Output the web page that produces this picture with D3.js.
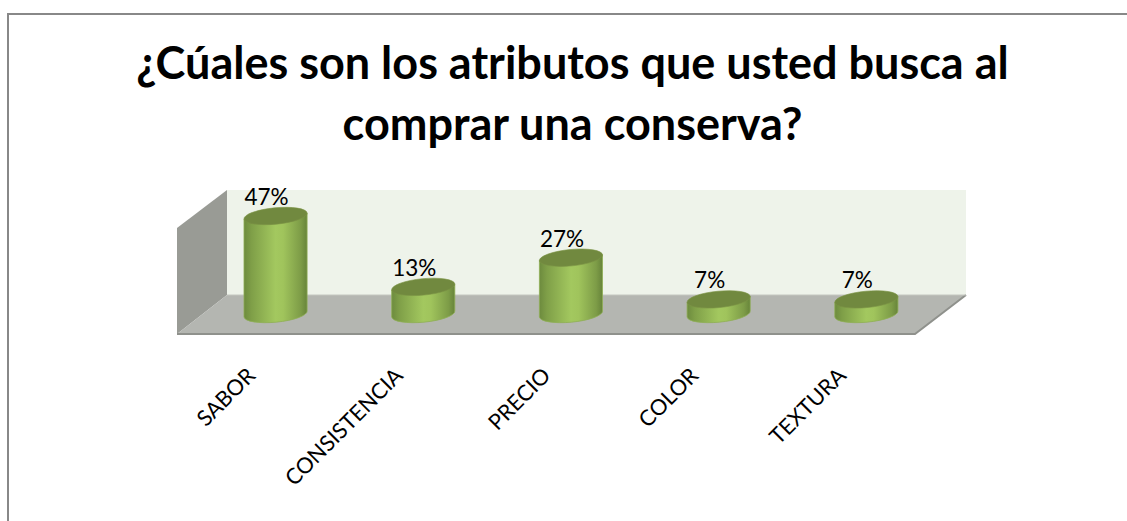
<!DOCTYPE html>
<html lang="es">
<head>
<meta charset="utf-8">
<style>
  html, body { margin: 0; padding: 0; background: #fff; }
  svg { display: block; }
  text { font-family: Lato, "Open Sans", sans-serif; fill: #000; }
</style>
</head>
<body>
<svg id="chart" width="1127" height="521"></svg>
<script src="https://cdn.jsdelivr.net/npm/d3@7/dist/d3.min.js"></script>
<script>
const categories = ["SABOR", "CONSISTENCIA", "PRECIO", "COLOR", "TEXTURA"];
const values = [47, 13, 27, 7, 7];
const titleLines = ["¿Cúales son los atributos que usted busca al", "comprar una conserva?"];

const svg = d3.select("#chart");
const W = 1127, H = 521;

// Frame: only the top and left edges fall inside the page
svg.append("path").attr("d", `M${W},14H8V${H}`)
  .attr("fill", "none").attr("stroke", "#888").attr("stroke-width", 2);

// Title
svg.append("g").selectAll("text").data(titleLines).join("text")
  .attr("x", 572.5).attr("y", (d, i) => 79 + i * 61)
  .attr("text-anchor", "middle")
  .attr("font-size", 45).attr("font-weight", 700)
  .text(d => d);

// Box corners of the oblique 3-D plot
const back = { x0: 227, x1: 966, top: 190, bottom: 295 };
const front = { x0: 177, x1: 915, top: 228, bottom: 334 };

const defs = svg.append("defs");

const poly = pts => d3.line()(pts) + "Z";

// Walls and floor
svg.append("path").attr("fill", "#eef3ea")
  .attr("d", poly([[back.x0, back.top], [back.x1, back.top], [back.x1, back.bottom], [back.x0, back.bottom]]));
svg.append("path").attr("fill", "#999b95")
  .attr("d", poly([[front.x0, front.top], [back.x0, back.top], [back.x0, back.bottom], [front.x0, front.bottom]]));
svg.append("path").attr("fill", "#b4b6b1")
  .attr("d", poly([[back.x0, back.bottom], [back.x1, back.bottom], [front.x1, front.bottom], [front.x0, front.bottom]]));
svg.append("path").attr("fill", "none").attr("stroke", "#8f918c").attr("stroke-width", 2)
  .attr("d", d3.line()([[front.x0, front.bottom], [front.x1, front.bottom], [back.x1, back.bottom]]));
svg.append("path").attr("fill", "none").attr("stroke", "#c4c6c0").attr("stroke-width", 1)
  .attr("d", d3.line()([[back.x0, back.bottom], [back.x1, back.bottom]]));

// Scales
const x = d3.scaleBand().domain(categories).range([201.7, 940.2]).paddingInner(0).paddingOuter(0);
const baseY = 314;
const y = d3.scaleLinear().domain([0, 47]).range([baseY, 216]);

// Cylinder side shading
const grad = defs.append("linearGradient").attr("id", "side")
  .attr("x1", 0).attr("x2", 1).attr("y1", 0).attr("y2", 0);
[[0, "#6d8b3e"], [0.12, "#7f9f48"], [0.5, "#a3c85f"], [0.62, "#a0c45c"], [0.9, "#7d9c47"], [1, "#67843a"]]
  .forEach(([o, c]) => grad.append("stop").attr("offset", o).attr("stop-color", c));

// Elliptical caps are tilted to follow the oblique view
const rx = 31.7, ry = 8.2, tilt = -5.4;
const dx = rx * Math.cos(tilt * Math.PI / 180);
const dy = rx * Math.sin(tilt * Math.PI / 180);

const bars = svg.append("g").selectAll("g").data(categories.map((c, i) => ({ c, v: values[i] }))).join("g")
  .attr("transform", d => `translate(${x(d.c) + x.bandwidth() / 2},0)`);

bars.append("path")
  .attr("fill", "url(#side)")
  .attr("stroke", "#8fae55").attr("stroke-width", 0.8)
  .attr("d", d => {
    const t = y(d.v);
    return `M${-dx},${t - dy}L${-dx},${baseY - dy}`
      + `A${rx},${ry} ${tilt} 0 0 ${dx},${baseY + dy}`
      + `L${dx},${t + dy}Z`;
  });

bars.append("ellipse")
  .attr("rx", rx).attr("ry", ry)
  .attr("transform", d => `translate(0,${y(d.v)}) rotate(${tilt})`)
  .attr("fill", "#71893f").attr("stroke", "#7b9445").attr("stroke-width", 0.6);

// Value labels
bars.append("text")
  .attr("x", -9).attr("y", d => y(d.v) - 11)
  .attr("text-anchor", "middle").attr("font-size", 22.5)
  .text(d => d.v + "%");

// Category labels, rotated along the diagonal
const axis = svg.append("g").attr("transform", "translate(0,352)")
  .call(d3.axisBottom(x).tickSize(0).tickPadding(0));
axis.select(".domain").remove();
axis.selectAll("text")
  .attr("font-size", 21.8)
  .attr("font-family", "Lato, 'Open Sans', sans-serif")
  .attr("font-weight", 400)
  .attr("fill", "#000")
  .attr("text-anchor", "end")
  .attr("dy", 0)
  .attr("transform", "translate(-19,25) rotate(-45)");
</script>
</body>
</html>
